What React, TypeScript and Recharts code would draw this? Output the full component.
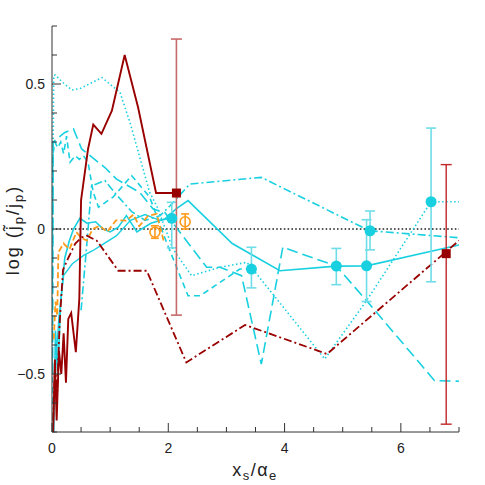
import { ComposedChart, Line, Scatter, ErrorBar, XAxis, YAxis, ReferenceLine } from 'recharts';

const CYAN = '#19d0e0';
const CYAN_ERR = '#6fdde8';
const DARK_RED = '#990000';
const ORANGE = '#ff9a1a';
const AXIS = '#333';
const FONT = 'Liberation Sans, Arial, sans-serif';

// tick positions (major ticks get labels)
const xTicks = [0, 0.5, 1, 1.5, 2, 2.5, 3, 3.5, 4, 4.5, 5, 5.5, 6, 6.5, 7];
const yTicks = [-0.7, -0.6, -0.5, -0.4, -0.3, -0.2, -0.1, 0, 0.1, 0.2, 0.3, 0.4, 0.5, 0.6, 0.7];

// ── curves ──────────────────────────────────────────────────────────
const redSolid = [
  { x: 0.02, y: -0.7 }, { x: 0.05, y: -0.45 }, { x: 0.08, y: -0.66 }, { x: 0.12, y: -0.42 },
  { x: 0.16, y: -0.5 }, { x: 0.2, y: -0.36 }, { x: 0.24, y: -0.53 }, { x: 0.28, y: -0.31 },
  { x: 0.33, y: -0.29 }, { x: 0.41, y: -0.425 }, { x: 0.47, y: -0.24 }, { x: 0.5, y: 0.1 },
  { x: 0.62, y: 0.276 }, { x: 0.71, y: 0.36 }, { x: 0.85, y: 0.328 }, { x: 1.03, y: 0.408 },
  { x: 1.25, y: 0.6 }, { x: 1.48, y: 0.42 }, { x: 1.79, y: 0.124 }, { x: 2.14, y: 0.124 },
];

const redDashDot = [
  { x: 0.02, y: -0.66 }, { x: 0.05, y: -0.48 }, { x: 0.09, y: -0.56 }, { x: 0.13, y: -0.33 },
  { x: 0.19, y: -0.14 }, { x: 0.28, y: -0.1 }, { x: 0.4, y: -0.05 }, { x: 0.51, y: -0.029 },
  { x: 0.6, y: -0.023 }, { x: 0.77, y: -0.04 }, { x: 1.14, y: -0.144 }, { x: 1.63, y: -0.144 },
  { x: 2.31, y: -0.46 }, { x: 3.32, y: -0.331 }, { x: 4.73, y: -0.431 }, { x: 7, y: -0.04 },
];

const cyanDotted = [
  { x: 0.01, y: -0.2 }, { x: 0.02, y: 0.3 }, { x: 0.03, y: 0.53 }, { x: 0.06, y: 0.531 },
  { x: 0.17, y: 0.508 }, { x: 0.34, y: 0.479 }, { x: 0.49, y: 0.485 }, { x: 0.86, y: 0.522 },
  { x: 1.0, y: 0.499 }, { x: 1.17, y: 0.471 }, { x: 1.34, y: 0.368 }, { x: 1.68, y: 0.126 },
  { x: 1.8, y: 0.08 }, { x: 2.08, y: -0.069 }, { x: 2.4, y: -0.161 }, { x: 2.89, y: -0.132 },
  { x: 3.35, y: -0.115 }, { x: 3.46, y: -0.14 }, { x: 4.69, y: -0.448 }, { x: 5.41, y: -0.247 },
  { x: 6.52, y: 0.094 }, { x: 7, y: 0.094 },
];

const cyanDashDot = [
  { x: 0.5, y: -0.28 }, { x: 0.6, y: -0.05 }, { x: 0.68, y: 0.149 }, { x: 0.91, y: 0.167 },
  { x: 1.1, y: 0.12 }, { x: 1.37, y: 0.06 }, { x: 1.6, y: 0.03 }, { x: 1.86, y: 0.046 },
  { x: 2.03, y: 0.08 }, { x: 2.37, y: 0.155 }, { x: 3.6, y: 0.178 }, { x: 5.46, y: -0.006 },
  { x: 7, y: -0.03 },
];

const cyanLongDash = [
  { x: 0.01, y: -0.5 }, { x: 0.02, y: 0.3 }, { x: 0.05, y: 0.305 }, { x: 0.22, y: 0.333 },
  { x: 0.37, y: 0.345 }, { x: 0.51, y: 0.276 }, { x: 0.91, y: 0.212 }, { x: 1.11, y: 0.172 },
  { x: 1.51, y: 0.126 }, { x: 1.74, y: 0.069 }, { x: 1.94, y: 0.057 }, { x: 2.66, y: -0.132 },
  { x: 2.89, y: -0.132 }, { x: 3.26, y: -0.161 }, { x: 3.6, y: -0.466 }, { x: 3.97, y: -0.063 },
  { x: 4.89, y: -0.128 }, { x: 5.41, y: -0.247 }, { x: 6.58, y: -0.523 }, { x: 7, y: -0.525 },
];

const cyanDash = [
  { x: 0.0, y: -0.6 }, { x: 0.01, y: 0.25 }, { x: 0.05, y: 0.3 }, { x: 0.1, y: 0.28 },
  { x: 0.15, y: 0.3 }, { x: 0.2, y: 0.26 }, { x: 0.25, y: 0.32 }, { x: 0.31, y: 0.23 },
  { x: 0.4, y: 0.253 }, { x: 0.47, y: 0.24 }, { x: 0.54, y: 0.253 }, { x: 0.62, y: 0.23 },
  { x: 0.71, y: 0.126 }, { x: 0.8, y: 0.075 }, { x: 1.05, y: 0.11 }, { x: 1.37, y: 0.184 },
  { x: 1.68, y: 0.11 }, { x: 1.97, y: -0.046 }, { x: 2.34, y: -0.23 }, { x: 2.55, y: -0.23 },
  { x: 3.23, y: -0.138 }, { x: 3.43, y: -0.138 },
];

const cyanSolidA = [
  { x: 0.03, y: -0.7 }, { x: 0.06, y: -0.35 }, { x: 0.1, y: -0.5 }, { x: 0.15, y: -0.25 },
  { x: 0.22, y: -0.1 }, { x: 0.3, y: -0.04 }, { x: 0.37, y: 0.0 }, { x: 0.48, y: 0.037 },
  { x: 0.6, y: 0.02 }, { x: 0.75, y: 0.025 }, { x: 0.88, y: 0.0 }, { x: 1.0, y: -0.01 },
  { x: 1.14, y: 0.006 }, { x: 1.28, y: 0.046 }, { x: 1.46, y: -0.01 }, { x: 1.7, y: 0.02 },
  { x: 1.94, y: 0.034 }, { x: 2.14, y: 0.07 }, { x: 2.34, y: 0.098 }, { x: 3.1, y: -0.05 },
  { x: 3.92, y: -0.144 }, { x: 4.89, y: -0.128 }, { x: 5.41, y: -0.127 }, { x: 7, y: -0.055 },
];

const cyanSolidB = [
  { x: 0.04, y: -0.55 }, { x: 0.12, y: -0.3 }, { x: 0.2, y: -0.16 }, { x: 0.35, y: -0.12 },
  { x: 0.55, y: -0.09 }, { x: 0.7, y: -0.075 }, { x: 0.88, y: -0.052 }, { x: 1.11, y: -0.023 },
  { x: 1.35, y: 0.03 }, { x: 1.6, y: 0.05 }, { x: 1.85, y: 0.03 }, { x: 2.06, y: 0.037 },
];

const orangeDash = [
  { x: 0.03, y: -0.38 }, { x: 0.06, y: -0.25 }, { x: 0.09, y: -0.3 }, { x: 0.11, y: -0.08 },
  { x: 0.2, y: -0.05 }, { x: 0.3, y: -0.07 }, { x: 0.42, y: -0.011 }, { x: 0.5, y: -0.03 },
  { x: 0.6, y: -0.04 }, { x: 0.7, y: 0.0 }, { x: 0.82, y: 0.011 }, { x: 0.95, y: -0.01 },
  { x: 1.1, y: 0.03 }, { x: 1.28, y: 0.029 }, { x: 1.4, y: 0.05 }, { x: 1.5, y: 0.01 },
  { x: 1.65, y: 0.045 }, { x: 1.8, y: 0.052 }, { x: 1.92, y: -0.04 },
];

// ── points with error bars, err = [below, above] ────────────────────
const cyanPoints = [
  { x: 2.06, y: 0.037, err: [0.102, 0.055] },
  { x: 3.43, y: -0.138, err: [0.065, 0.075] },
  { x: 4.89, y: -0.128, err: [0.064, 0.061] },
  { x: 5.41, y: -0.127, err: [0.123, 0.159] },
  { x: 5.47, y: -0.006, err: [0.066, 0.068] },
  { x: 6.52, y: 0.094, err: [0.276, 0.254] },
];
const redPointsNear = [{ x: 2.14, y: 0.124, err: [0.421, 0.531] }];
const redPointsFar = [{ x: 6.78, y: -0.085, err: [0.588, 0.307] }];
const orangePoints = [
  { x: 1.77, y: -0.011, err: [0.021, 0.022] },
  { x: 2.29, y: 0.025, err: [0.025, 0.027] },
];

const isMajor = (v: number, step: number) => Math.abs(v / step - Math.round(v / step)) < 1e-6;

function XTick({ x, y, payload, side }: any) {
  const major = isMajor(payload.value, 2);
  const len = major ? 9 : 5;
  const dir = side === 'top' ? 1 : -1;
  return (
    <g>
      <line x1={x} x2={x} y1={y} y2={y + dir * len} stroke={AXIS} strokeWidth={1} />
      {side !== 'top' && major && (
        <text x={x} y={y + 21} textAnchor="middle" fontSize={14} fill="#222" fontFamily={FONT}>
          {payload.value}
        </text>
      )}
    </g>
  );
}

function YTick({ x, y, payload, side }: any) {
  const major = isMajor(payload.value, 0.5);
  const len = major ? 9 : 5;
  const dir = side === 'right' ? -1 : 1;
  const v = payload.value;
  const label = v === 0 ? '0' : v < 0 ? `−${Math.abs(v)}` : `${v}`;
  return (
    <g>
      <line x1={x} x2={x + dir * len} y1={y} y2={y} stroke={AXIS} strokeWidth={1} />
      {side !== 'right' && major && (
        <text x={x - 7} y={y + 5} textAnchor="end" fontSize={14} fill="#222" fontFamily={FONT}>
          {label}
        </text>
      )}
    </g>
  );
}

const circle = (r: number, fill: string, stroke?: string) => (p: any) => (
  <circle cx={p.cx} cy={p.cy} r={r} fill={fill} stroke={stroke ?? 'none'} strokeWidth={1.6} />
);
const square = (p: any) => <rect x={p.cx - 4.5} y={p.cy - 4.5} width={9} height={9} fill={DARK_RED} />;

export default function App() {
  const line = (data: any[], color: string, dash: string | undefined, w = 1.6, key: string) => (
    <Line
      key={key}
      data={data}
      dataKey="y"
      type="linear"
      stroke={color}
      strokeWidth={w}
      strokeDasharray={dash}
      dot={false}
      activeDot={false}
      isAnimationActive={false}
    />
  );

  return (
    <div style={{ position: 'relative', width: 485, height: 485 }}>
      <style>{'body{margin:0}'}</style>
      <ComposedChart width={485} height={485} margin={{ top: 26, right: 26, left: 0, bottom: 0 }}>
        <XAxis
          type="number" dataKey="x" domain={[0, 7]} ticks={xTicks} interval={0} allowDataOverflow
          height={53} tickSize={0} tickMargin={0} stroke={AXIS}
          tick={(p: any) => <XTick {...p} side="bottom" />}
        />
        <XAxis
          xAxisId="top" orientation="top" type="number" dataKey="x" domain={[0, 7]} ticks={xTicks}
          interval={0} allowDataOverflow height={0} tickSize={0} tickMargin={0} stroke={AXIS}
          tick={(p: any) => <XTick {...p} side="top" />}
        />
        <YAxis
          type="number" dataKey="y" domain={[-0.7, 0.7]} ticks={yTicks} interval={0} allowDataOverflow
          width={52} tickSize={0} tickMargin={0} stroke={AXIS}
          tick={(p: any) => <YTick {...p} side="left" />}
        />
        <YAxis
          yAxisId="right" orientation="right" type="number" dataKey="y" domain={[-0.7, 0.7]}
          ticks={yTicks} interval={0} allowDataOverflow width={0} tickSize={0} tickMargin={0} stroke={AXIS}
          tick={(p: any) => <YTick {...p} side="right" />}
        />
        <ReferenceLine y={0} stroke="#222" strokeWidth={1.6} strokeDasharray="1.6 2.2" ifOverflow="hidden" />

        {line(cyanDotted, CYAN, '1.5 2.5', 1.6, 'cdot')}
        {line(cyanDashDot, CYAN, '8 3 2 3', 1.6, 'cdd')}
        {line(cyanLongDash, CYAN, '11 5', 1.6, 'cld')}
        {line(cyanDash, CYAN, '6 4', 1.6, 'cd')}
        {line(cyanSolidA, CYAN, undefined, 1.6, 'csa')}
        {line(cyanSolidB, CYAN, undefined, 1.4, 'csb')}
        {line(orangeDash, ORANGE, '6 3', 1.8, 'od')}
        {line(redDashDot, DARK_RED, '8 3 2 3', 1.8, 'rdd')}
        {line(redSolid, DARK_RED, undefined, 1.9, 'rs')}

        <Scatter data={cyanPoints} fill={CYAN} shape={circle(5.5, CYAN)} isAnimationActive={false}>
          <ErrorBar dataKey="err" direction="y" width={5} stroke={CYAN_ERR} strokeWidth={1.6} />
        </Scatter>
        <Scatter data={orangePoints} fill="none" shape={circle(5, 'none', ORANGE)} isAnimationActive={false}>
          <ErrorBar dataKey="err" direction="y" width={4} stroke={ORANGE} strokeWidth={1.6} />
        </Scatter>
        <Scatter data={redPointsNear} fill={DARK_RED} shape={square} isAnimationActive={false}>
          <ErrorBar dataKey="err" direction="y" width={5.5} stroke="#c86a6a" strokeWidth={1.6} />
        </Scatter>
        <Scatter data={redPointsFar} fill={DARK_RED} shape={square} isAnimationActive={false}>
          <ErrorBar dataKey="err" direction="y" width={5.5} stroke="#c02828" strokeWidth={1.4} />
        </Scatter>
      </ComposedChart>

      <svg width={485} height={485} style={{ position: 'absolute', left: 0, top: 0, pointerEvents: 'none' }}>
        <text x={255} y={476} textAnchor="middle" fontSize={18} letterSpacing={1.5} fill="#222" fontFamily={FONT}>
          x<tspan dy={4} fontSize={13}>s</tspan>
          <tspan dy={-4}>/α</tspan>
          <tspan dy={4} fontSize={13}>e</tspan>
        </text>
        <text
          transform="translate(19,230) rotate(-90)" textAnchor="middle" fontSize={18} letterSpacing={2}
          fill="#222" fontFamily={FONT}
        >
          log (j̃<tspan dy={4} fontSize={13}>p</tspan>
          <tspan dy={-4}>/j</tspan>
          <tspan dy={4} fontSize={13}>p</tspan>
          <tspan dy={-4}>)</tspan>
        </text>
      </svg>
    </div>
  );
}
